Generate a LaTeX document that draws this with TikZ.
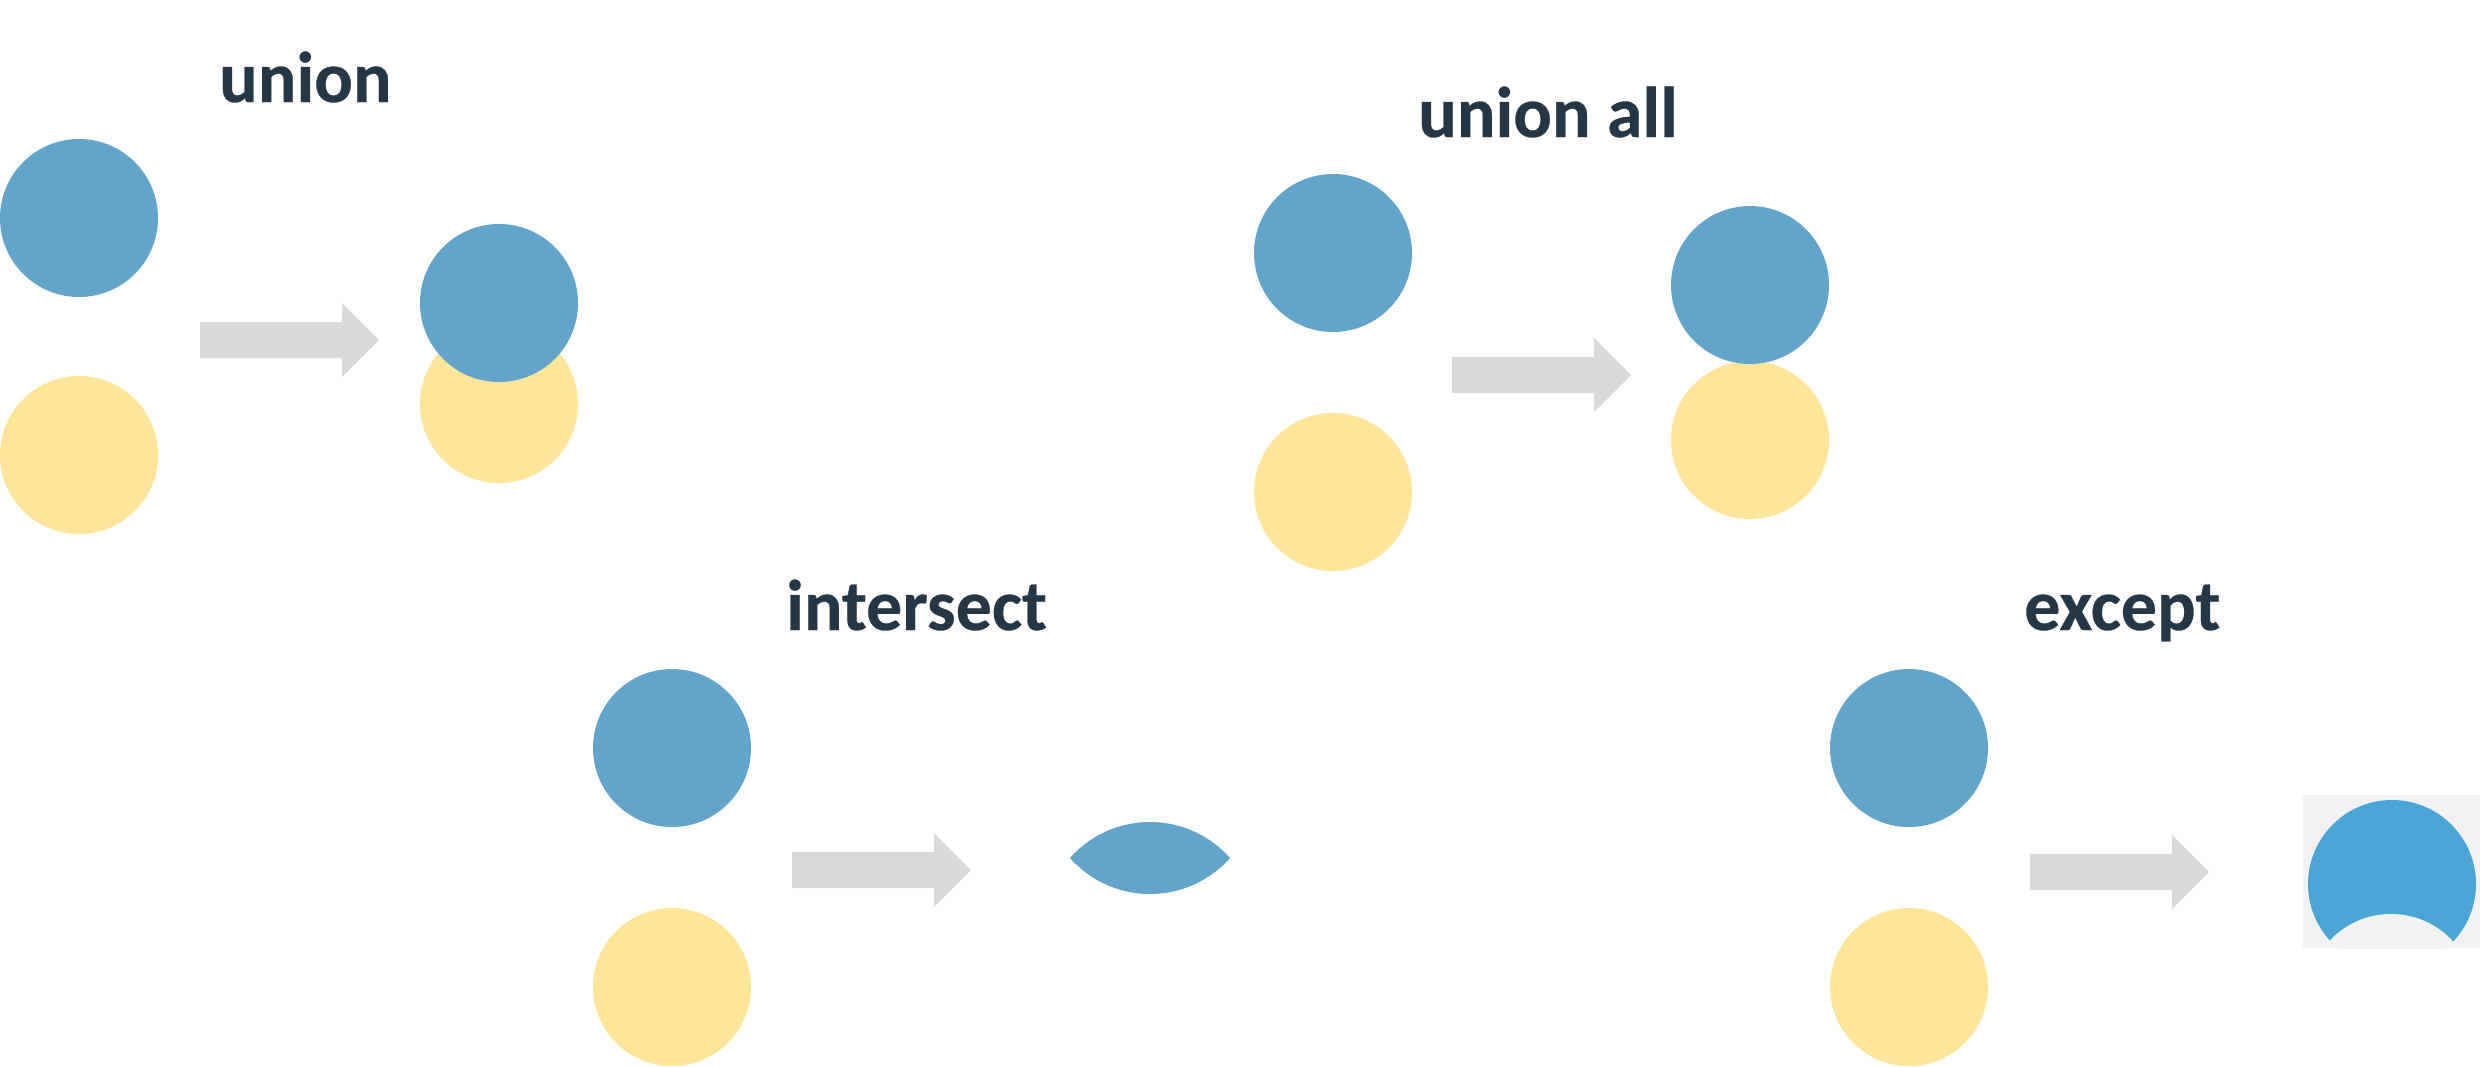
\documentclass[tikz,border=0pt]{standalone}
\usepackage{fontspec}
\setmainfont{Carlito}[BoldFeatures={FakeBold=0.4}]
\begin{document}
\begin{tikzpicture}[x=1pt,y=-1pt,
  setA/.style={circle,fill=blueA,inner sep=0pt,minimum size=158pt},
  setB/.style={circle,fill=yellowB,inner sep=0pt,minimum size=158pt},
  lbl/.style={anchor=base west,inner sep=0pt,text=textC,font=\fontsize{72}{86}\selectfont\bfseries},
  blockarrow/.style={fill=arrowG}]
\definecolor{blueA}{HTML}{63A4CB}
\definecolor{yellowB}{HTML}{FFE599}
\definecolor{arrowG}{HTML}{D9D9D9}
\definecolor{textC}{HTML}{243746}
\definecolor{exceptBlue}{HTML}{4BA6D6}
\definecolor{bgGray}{HTML}{F2F2F2}
\useasboundingbox (0,0) rectangle (2480,1066);
\newcommand{\blkarrow}[2]{%
  \fill[blockarrow] (#1,#2-18) -- ++(142,0) -- ++(0,-19) -- ++(37,37) -- ++(-37,37) -- ++(0,-19) -- ++(-142,0) -- cycle;}
% union
\node[lbl] (tunion) at (219,102) {union};
\node[setA] (a1) at (79,218) {};
\node[setB] (a2) at (79,455) {};
\blkarrow{200}{340}
\node[setB] (ar2) at (499,404) {};
\node[setA] (ar1) at (499,303) {};
% union all
\node[lbl] (tunionall) at (1418,137) {union all};
\node[setA] (b1) at (1333,253) {};
\node[setB] (b2) at (1333,492) {};
\blkarrow{1452}{375}
\node[setB] (br2) at (1750,440) {};
\node[setA] (br1) at (1750,285) {};
% intersect
\node[lbl] (tinter) at (786,630) {intersect};
\node[setA] (c1) at (672,748) {};
\node[setB] (c2) at (672,987) {};
\blkarrow{792}{870}
\begin{scope}
  \clip (1150,929) circle (107);
  \fill[blueA] (1150,787) circle (107);
\end{scope}
% except
\node[lbl] (texcept) at (2024,630) {except};
\node[setA] (d1) at (1909,748) {};
\node[setB] (d2) at (1909,987) {};
\blkarrow{2030}{872}
\begin{scope}
  \clip (2303,795) rectangle (2480,948);
  \fill[bgGray] (2303,795) rectangle (2480,948);
  \fill[exceptBlue] (2392,884) circle (84);
  \begin{scope}
    \clip (2392,884) circle (84.5);
    \fill[bgGray] (2391,998) circle (84);
  \end{scope}
\end{scope}
\end{tikzpicture}
\end{document}
